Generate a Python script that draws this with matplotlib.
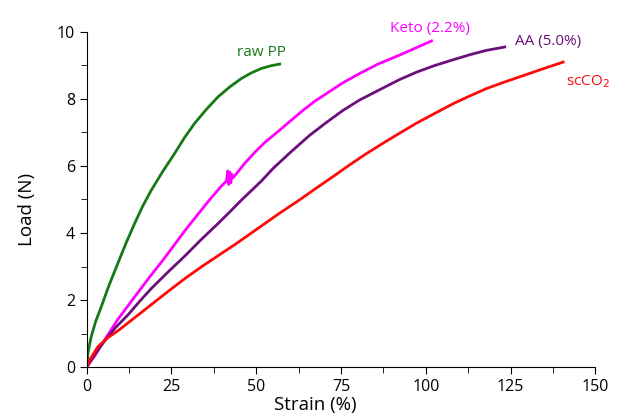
import matplotlib.pyplot as plt
from matplotlib.ticker import MultipleLocator

# raw PP
pp_x = [0, 0.4, 1.3, 2.6, 4.25, 6.5, 9.15, 11.6, 14.1, 16.5, 19.0, 22.5, 25.9, 28.8, 31.8, 35.2, 38.7, 42.2, 45.6, 48.6, 51.5, 54.3, 56.9]
pp_y = [0, 0.45, 0.9, 1.35, 1.79, 2.42, 3.09, 3.7, 4.28, 4.8, 5.27, 5.85, 6.37, 6.84, 7.27, 7.68, 8.06, 8.36, 8.61, 8.78, 8.91, 8.99, 9.04]

# Keto (2.2%)
keto_x = [0, 1.0, 2.3, 5.2, 9.15, 14.1, 18.5, 22.4, 25.5, 28.8, 32.8, 36.3, 39.7, 41.2, 41.6, 41.9, 42.2, 42.5, 42.8, 43.2, 46.6, 49.5, 52.5, 56.9, 60.5, 63.8, 67.2, 70.7, 75.5, 80.5, 85.9, 92.3, 97.0, 101.7]
keto_y = [0, 0.15, 0.32, 0.8, 1.42, 2.09, 2.68, 3.18, 3.6, 4.05, 4.56, 5.0, 5.4, 5.55, 5.85, 5.45, 5.82, 5.5, 5.75, 5.65, 6.08, 6.4, 6.7, 7.07, 7.38, 7.66, 7.93, 8.16, 8.48, 8.76, 9.04, 9.31, 9.52, 9.73]

# AA (5.0%)
aa_x = [0, 1.0, 2.5, 5.2, 8.5, 12.1, 15.5, 19.0, 24.0, 28.8, 33.7, 38.7, 42.2, 45.6, 48.5, 51.5, 54.9, 60.0, 65.8, 70.7, 75.6, 80.5, 85.9, 92.3, 97.3, 102.7, 108.1, 113, 117.9, 123.3]
aa_y = [0, 0.16, 0.4, 0.77, 1.18, 1.55, 1.95, 2.34, 2.84, 3.3, 3.8, 4.28, 4.63, 4.98, 5.26, 5.55, 5.92, 6.4, 6.92, 7.3, 7.66, 7.97, 8.25, 8.58, 8.8, 9.0, 9.17, 9.32, 9.45, 9.55]

# scCO2
co2_x = [0, 0.8, 3.25, 6.0, 9.15, 14.1, 19.0, 23.9, 28.8, 33.8, 38.7, 43.6, 48, 52.5, 57, 62.5, 67.7, 72.6, 77.5, 82.5, 87.4, 92.3, 97.3, 102.5, 108.1, 113, 117.9, 122.8, 127.7, 134, 140.5]
co2_y = [0, 0.2, 0.6, 0.86, 1.08, 1.47, 1.86, 2.25, 2.63, 2.99, 3.32, 3.65, 3.96, 4.28, 4.6, 4.97, 5.34, 5.68, 6.03, 6.37, 6.68, 6.98, 7.28, 7.56, 7.86, 8.09, 8.31, 8.49, 8.66, 8.88, 9.1]

plt.rcParams['font.family'] = ['Open Sans', 'DejaVu Sans']

fig = plt.figure(figsize=(6.24, 4.2), dpi=100)
ax = fig.add_axes([0.139, 0.126, 0.815, 0.798])

ax.plot(pp_x, pp_y, color='#157a15', lw=2.0)
ax.plot(keto_x, keto_y, color='#ff00ff', lw=2.0)
ax.plot(aa_x, aa_y, color='#6b0f7a', lw=2.0)
ax.plot(co2_x, co2_y, color='#ff0a0a', lw=2.0)

ax.text(44.3, 9.28, 'raw PP', color='#157a15', fontsize=11)
ax.text(89.5, 10.0, 'Keto (2.2%)', color='#ff00ff', fontsize=11)
ax.text(126.3, 9.61, 'AA (5.0%)', color='#6b0f7a', fontsize=11)
ax.text(141.3, 8.4, 'scCO$_2$', color='#ff0a0a', fontsize=11)

ax.set_xlim(0, 150)
ax.set_ylim(0, 10)
ax.xaxis.set_major_locator(MultipleLocator(25))
ax.xaxis.set_minor_locator(MultipleLocator(12.5))
ax.yaxis.set_major_locator(MultipleLocator(2))
ax.yaxis.set_minor_locator(MultipleLocator(1))
ax.spines['top'].set_visible(False)
ax.spines['right'].set_visible(False)
ax.tick_params(which='major', length=5, labelsize=11.5)
ax.tick_params(which='minor', length=4)
ax.set_xlabel('Strain (%)', fontsize=13.5)
ax.set_ylabel('Load (N)', fontsize=13.5)
ax.xaxis.set_label_coords(0.45, -0.085)
ax.yaxis.set_label_coords(-0.1, 0.47)

fig.savefig('out.png', dpi=100)
